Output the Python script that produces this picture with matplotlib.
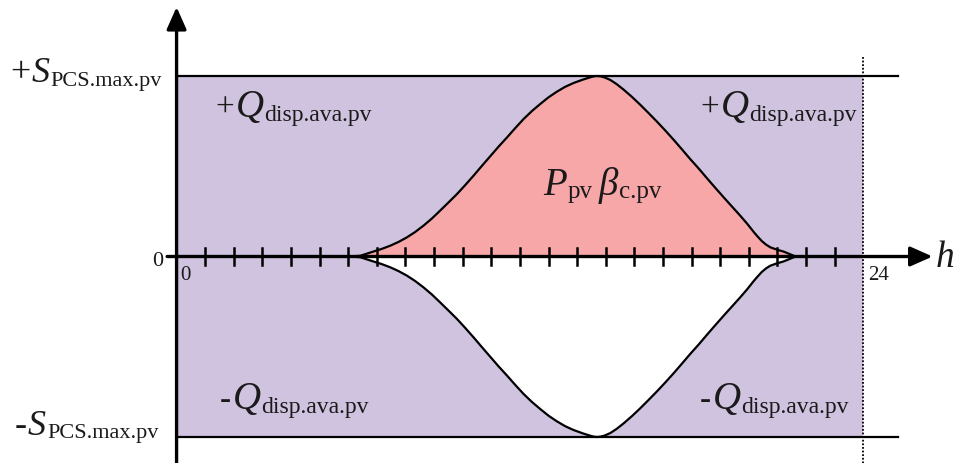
import numpy as np
import matplotlib
matplotlib.use("Agg")
from matplotlib import pyplot as plt
from matplotlib import transforms

# hourly time axis and normalised PV curve (1.0 = S_PCS.max.pv)
hours = [6.07, 6.42, 6.87, 7.17, 7.47, 7.76, 8.05, 8.34, 8.63, 8.92, 9.21, 9.50,
         9.80, 10.09, 10.38, 10.67, 10.96, 11.25, 11.55, 11.84, 12.13, 12.42,
         12.71, 13.00, 13.29, 13.58, 13.87, 14.20, 14.46, 14.58, 14.70, 14.82,
         14.96, 15.16, 15.38, 15.62, 15.91, 16.21, 16.50, 16.79, 17.08, 17.37,
         17.66, 17.95, 18.25, 18.54, 18.83, 19.12, 19.41, 19.70, 19.95, 20.17,
         20.30, 20.45, 20.60, 20.75, 20.98, 21.22, 21.42, 21.63]
pv = [0.0, 0.004, 0.027, 0.042, 0.060, 0.081, 0.106, 0.136, 0.171, 0.210, 0.254,
      0.299, 0.346, 0.396, 0.448, 0.502, 0.555, 0.608, 0.660, 0.712, 0.762,
      0.806, 0.845, 0.882, 0.913, 0.940, 0.961, 0.980, 0.993, 0.998, 1.0, 0.998,
      0.992, 0.978, 0.955, 0.925, 0.885, 0.840, 0.794, 0.747, 0.698, 0.647,
      0.594, 0.540, 0.487, 0.433, 0.380, 0.328, 0.277, 0.226, 0.180, 0.136,
      0.112, 0.086, 0.066, 0.051, 0.038, 0.027, 0.014, 0.0]
s_max = 1.0
day = 24
tick_hours = list(range(1, 24))

purple = "#cfc3df"
pink = "#f7a7a8"
ink = "#1a1a1a"
serif = "Liberation Serif"

hours = np.array(hours)
pv = np.array(pv)

fig = plt.figure(figsize=(9.56, 4.64), dpi=100)
ax = fig.add_axes([0, 0, 1, 1])
ax.set_xlim(-6.171, 27.24)
ax.set_ylim(-1.144, 1.4266)
ax.axis("off")

# available reactive power band and the PV output
ax.fill_between([0, day], -s_max, s_max, color=purple, lw=0, zorder=1)
ax.fill_between(hours, 0, pv, color=pink, lw=0, zorder=2)
ax.fill_between(hours, -pv, 0, color="white", lw=0, zorder=2)
ax.plot(hours, pv, color="k", lw=1.6, zorder=3, solid_joinstyle="round")
ax.plot(hours, -pv, color="k", lw=1.6, zorder=3, solid_joinstyle="round")

ax.plot([0, 25.2], [s_max, s_max], color="k", lw=1.6, zorder=3)
ax.plot([0, 25.2], [-s_max, -s_max], color="k", lw=1.6, zorder=3)
ax.plot([day, day], [1.105, -1.144], color="k", lw=1.3, ls=(0, (1, 1)), zorder=3)

# axes with arrows
arrow = dict(arrowstyle="-|>,head_length=0.45,head_width=0.2", lw=2.4,
             color="k", mutation_scale=30, shrinkA=0, shrinkB=0)
ax.annotate("", xy=(26.42, 0), xytext=(-0.33, 0), arrowprops=arrow, zorder=4)
ax.annotate("", xy=(0, 1.382), xytext=(0, -1.144), arrowprops=arrow, zorder=4)
for t in tick_hours:
    ax.plot([t, t], [-0.047, 0.047], color="k", lw=1.8, zorder=4)


def put(x, y, parts):
    # lay text pieces side by side on a common baseline
    r = fig.canvas.get_renderer()
    dx = 0
    for s, size, style, dy, gap in parts:
        dx += gap
        tr = transforms.offset_copy(ax.transData, fig=fig, x=dx, y=-dy, units="dots")
        t = ax.text(x, y, s, fontsize=size, style=style, family=serif,
                    color=ink, va="baseline", ha="left", transform=tr, zorder=5)
        dx += t.get_window_extent(r).width


put(-5.82, 0.972, [("+", 26, "normal", 0, 0), ("S", 26, "italic", 0, 1),
                   ("PCS.max.pv", 16, "normal", 4, 1)])
put(-5.65, -0.983, [("-", 26, "normal", 0, 0), ("S", 26, "italic", 0, 1),
                    ("PCS.max.pv", 16, "normal", 3, 1)])
for x0, sign, y0 in [(1.35, "+", 0.778), (18.30, "+", 0.778),
                     (1.52, "-", -0.839), (18.30, "-", -0.839)]:
    put(x0, y0, [(sign, 24, "normal", 0, 0), ("Q", 28, "italic", 0, 2),
                 ("disp.ava.pv", 17, "normal", 4, 0)])
put(12.81, 0.346, [("P", 28, "italic", 0, 0), ("pv", 18, "normal", 3, 1),
                   ("\u03b2", 28, "italic", 0, 6), ("c.pv", 18, "normal", 3, 1)])

ax.text(-0.47, -0.047, "0", fontsize=16, family=serif, color=ink,
        ha="right", va="baseline")
ax.text(0.12, -0.125, "0", fontsize=15, family=serif, color=ink,
        ha="left", va="baseline")
ax.text(24.18, -0.125, "24", fontsize=15, family=serif, color=ink,
        ha="left", va="baseline")
ax.text(26.52, -0.053, "h", fontsize=27, family=serif, style="italic",
        color=ink, ha="left", va="baseline")

fig.savefig("out.png", dpi=100)
